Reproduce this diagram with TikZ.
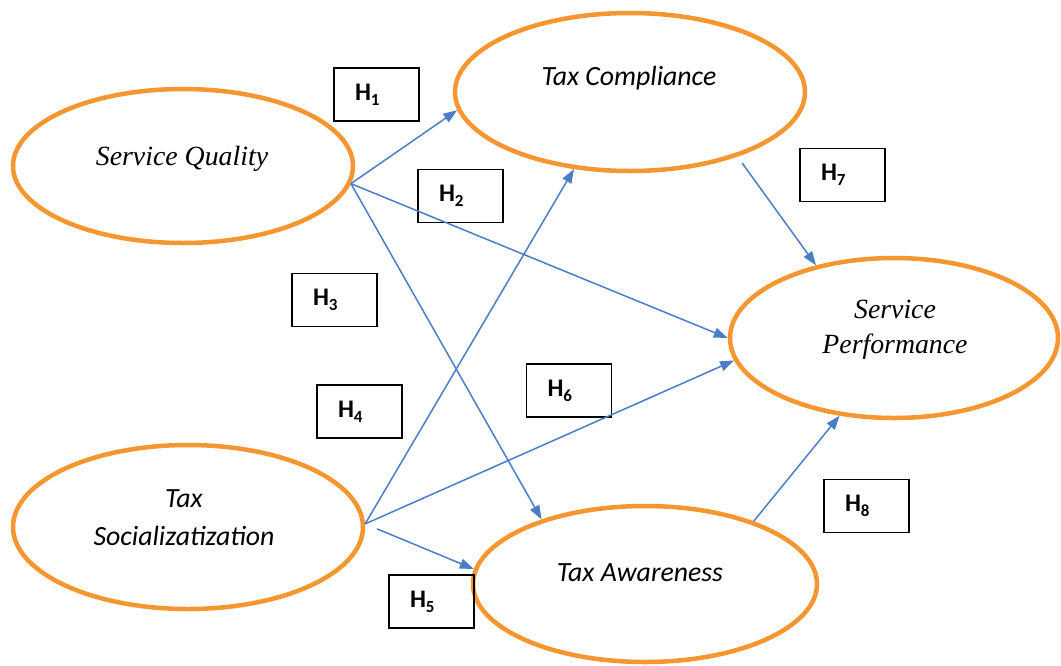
\documentclass[tikz,border=0pt]{standalone}
\usepackage{fontspec}
\setmainfont{Liberation Serif}
\newfontfamily\calib{Carlito}
\usetikzlibrary{shapes.geometric,arrows.meta}
\definecolor{ellorange}{RGB}{246,150,48}
\definecolor{arrblue}{RGB}{74,126,198}
\newcommand{\hsub}[1]{\raisebox{-5pt}{\fontsize{17}{17}\selectfont #1}}
\begin{document}
\begin{tikzpicture}[x=1pt,y=-1pt,
 ell/.style={ellipse,draw=ellorange,line width=4.5pt,inner sep=0pt},
 conn/.style={draw=arrblue,line width=1.5pt,-{Triangle[length=14pt,width=10pt]}},
 hbox/.style={draw=black,line width=1.8pt,minimum height=53pt,inner xsep=21pt,inner ysep=0pt,text width=43pt,align=left,font=\calib\bfseries\fontsize{25.3}{25.3}\selectfont},
 serif/.style={font=\fontsize{27.8}{35}\selectfont\itshape, align=center},
 sans/.style={font=\calib\fontsize{27.8}{38}\selectfont\itshape, align=center}]
\path[use as bounding box,fill=white] (0,0) rectangle (1061,665);

% constructs
\node[ell,minimum width=340pt,minimum height=154pt] (sq) at (183,166) {};
\node[ell,minimum width=350pt,minimum height=158pt] (tc) at (630,92) {};
\node[ell,minimum width=328pt,minimum height=160pt] (sp) at (894,338) {};
\node[ell,minimum width=350pt,minimum height=164pt] (ts) at (188,527) {};
\node[ell,minimum width=344pt,minimum height=156pt] (ta) at (645,584) {};

% texts
\node[serif,anchor=base] (sqt) at (182,165) {Service Quality};
\node[sans,anchor=base] (tct) at (629,85) {Tax Compliance};
\node[serif] (spt) at (895,330) {Service\\Performance};
\node[sans] (tst) at (184,518) {Tax\\Socializatization};
\node[sans,anchor=base] (tat) at (640,581) {Tax Awareness};

% hypothesis boxes
\node[hbox] (h1) at (376.5,94.5) {H\hsub{1}};
\node[hbox] (h2) at (460.5,196) {H\hsub{2}};
\node[hbox] (h3) at (334.5,300) {H\hsub{3}};
\node[hbox] (h4) at (359.5,411.5) {H\hsub{4}};
\node[hbox] (h5) at (431.5,601.5) {H\hsub{5}};
\node[hbox] (h6) at (569,390.5) {H\hsub{6}};
\node[hbox] (h7) at (842.5,175) {H\hsub{7}};
\node[hbox] (h8) at (866.5,506) {H\hsub{8}};

% connectors
\draw[conn] (sq.-6) -- (tc.186.3);
\draw[conn] (sq.-6) -- (sp.180);
\draw[conn] (sq.-6) -- (ta.148.6);
\draw[conn] (ts.1) -- (tc.234.9);
\draw[conn] (ts.1) -- (sp.188.6);
\draw[conn,shorten <=13pt] (ts.1) -- (ta.175.9);
\draw[conn,shorten <=8pt] (tc.-31.7) -- (sp.137.3);
\draw[conn] (ta.30.6) -- (sp.235.7);
\end{tikzpicture}
\end{document}
